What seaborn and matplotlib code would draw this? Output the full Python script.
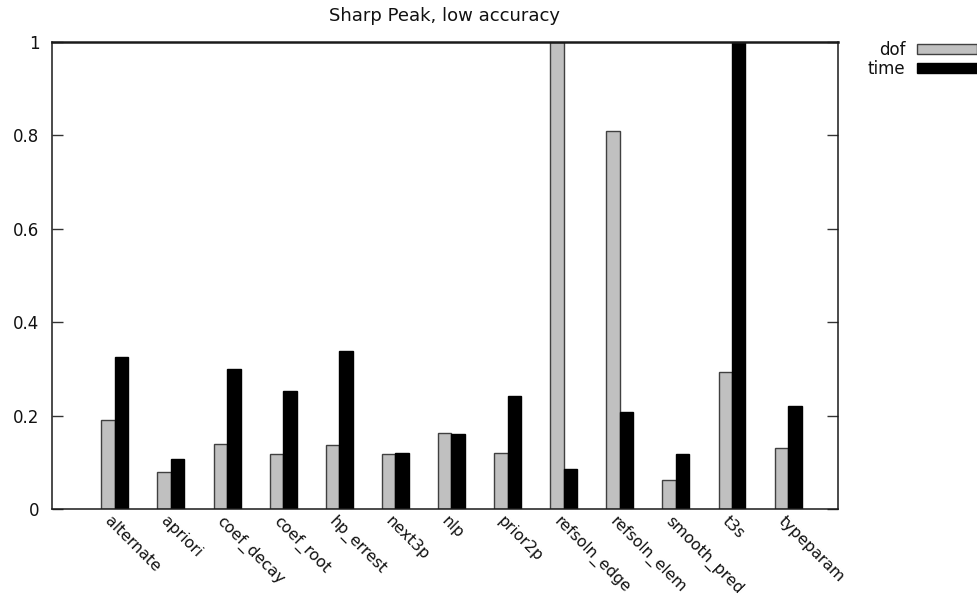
import matplotlib
matplotlib.use("Agg")
import matplotlib.pyplot as plt
import matplotlib.transforms as mtransforms
import seaborn as sns
import pandas as pd

# Normalised results per strategy
strategies = ["alternate", "apriori", "coef_decay", "coef_root", "hp_errest",
              "next3p", "nlp", "prior2p", "refsoln_edge", "refsoln_elem",
              "smooth_pred", "t3s", "typeparam"]
dof = [0.19, 0.08, 0.14, 0.118, 0.138, 0.117, 0.162, 0.12, 1.0, 0.81,
       0.062, 0.293, 0.13]
time = [0.326, 0.108, 0.30, 0.253, 0.338, 0.12, 0.16, 0.242, 0.085, 0.208,
        0.117, 1.0, 0.22]
series_names = ["dof", "time"]
y_ticks = [0, 0.2, 0.4, 0.6, 0.8, 1.0]
y_tick_labels = ["0", "0.2", "0.4", "0.6", "0.8", "1"]

df = pd.DataFrame({
    "strategy": strategies * 2,
    "series": [series_names[0]] * len(strategies) + [series_names[1]] * len(strategies),
    "value": dof + time,
})

sns.set_theme(style="white")
plt.rcParams["font.family"] = ["DejaVu Sans"]
FS = 12

fig = plt.figure(figsize=(9.78, 6.0), dpi=100)
ax = fig.add_axes([52 / 978, 1 - 509 / 600, (838 - 52) / 978, (509 - 42) / 600])

sns.barplot(data=df, x="strategy", y="value", hue="series", order=strategies,
            hue_order=series_names, palette={"dof": "#c0c0c0", "time": "#000000"},
            width=0.48, gap=0, saturation=1, ax=ax, legend=False)

for bar, name in zip(ax.patches, ["dof"] * len(strategies) + ["time"] * len(strategies)):
    bar.set_edgecolor("#404040" if name == "dof" else "#000000")
    bar.set_linewidth(1.0)

ax.set_xlim(-1.12, 12.89)
ax.set_ylim(0, 1)
ax.set_yticks(y_ticks)
ax.set_yticklabels(y_tick_labels)
ax.set_xlabel("")
ax.set_ylabel("")
ax.set_title("Sharp Peak, low accuracy", fontsize=13, pad=15, color="#111111")

for side in ["left", "right", "top", "bottom"]:
    ax.spines[side].set_visible(True)
    ax.spines[side].set_color("#1a1a1a")
    ax.spines[side].set_linewidth(1.1)
ax.spines["top"].set_linewidth(1.8)

ax.tick_params(axis="y", which="both", direction="in", length=8, width=1,
               color="#333333", left=True, right=True, labelsize=FS, pad=9,
               labelcolor="#111111")
ax.tick_params(axis="x", which="both", length=0, pad=3, labelsize=11.3,
               labelcolor="#111111")

# Slanted category labels
offset = mtransforms.ScaledTranslation(-2 / 100, 0, fig.dpi_scale_trans)
for lbl in ax.get_xticklabels():
    lbl.set_rotation(-45)
    lbl.set_rotation_mode("anchor")
    lbl.set_ha("left")
    lbl.set_va("top")
    lbl.set_transform(lbl.get_transform() + offset)

handles = [plt.Rectangle((0, 0), 1, 1, facecolor="#c0c0c0", edgecolor="#404040", linewidth=1.0),
           plt.Rectangle((0, 0), 1, 1, facecolor="#000000", edgecolor="#000000", linewidth=1.0)]
fig.legend(handles, series_names, loc="upper right", bbox_to_anchor=(0.999, 1 - 41 / 600),
           frameon=False, markerfirst=False, handlelength=3.6, handleheight=0.5,
           handletextpad=0.7, labelspacing=0.05, fontsize=FS, borderaxespad=0.0,
           borderpad=0.0, labelcolor="#111111")

fig.savefig("out.png", dpi=100)
